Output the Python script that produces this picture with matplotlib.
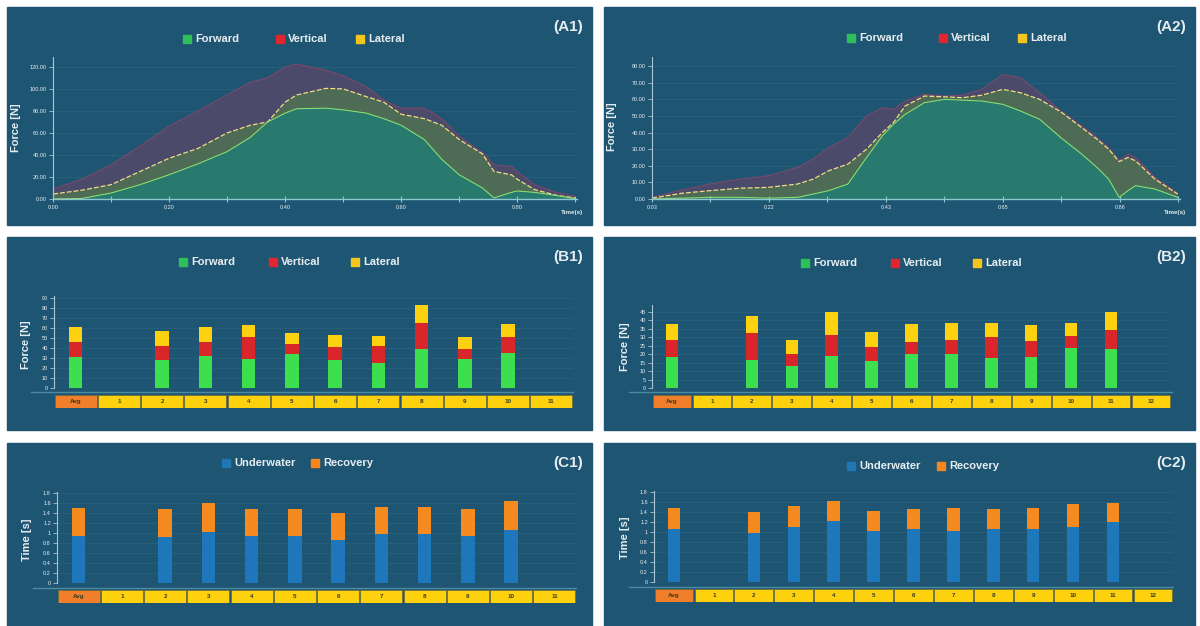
import numpy as np
import matplotlib; matplotlib.use("Agg"); import matplotlib.pyplot as plt
from matplotlib.patches import Rectangle

W, H = 1200, 626
plt.rcParams["font.family"] = ["Liberation Sans", "DejaVu Sans"]

BG = "#1e5572"; AX = "#a9c4d3"; TXT = "#e6edf1"; GRID = "#3a6f8b"

# (A1) force-time curve, components stacked: forward, lateral, vertical [N]
a1_t = [0.00, 0.05, 0.10, 0.15, 0.20, 0.25, 0.30, 0.34, 0.37, 0.40, 0.42, 0.47, 0.50,
        0.54, 0.57, 0.60, 0.64, 0.67, 0.70, 0.74, 0.76, 0.79, 0.80, 0.83, 0.87, 0.90]
a1_forward = [0, 0.5, 5.4, 13, 22, 32, 43, 56, 70, 78, 82, 82.5, 81,
              78, 73, 67, 54, 36, 22, 10, 1, 6, 7.3, 6, 3, 0.3]
a1_lateral = [4.5, 7.5, 7.6, 12, 15, 14, 17, 11, 0, 10, 12.5, 18, 19,
              15, 15, 10, 19, 31, 32, 31, 24, 16, 10.7, 2.5, 0, 0.7]
a1_vertical = [4.5, 10, 18, 23, 29, 34, 34.5, 39, 40, 32, 28, 16.5, 12,
               9, 2, 5.5, 9.5, 6, 3, 1, 6, 7.5, 7, 4.5, 2.5, 1.4]
a1_xlabels = ["0.00", "0.20", "0.40", "0.60", "0.80"]

# (A2)
a2_t = [0.000, 0.052, 0.099, 0.151, 0.199, 0.249, 0.276, 0.302, 0.335, 0.367, 0.394, 0.413, 0.433, 0.466, 0.501,
        0.531, 0.564, 0.600, 0.630, 0.663, 0.699, 0.735, 0.761, 0.781, 0.799, 0.814, 0.827, 0.860, 0.899]
a2_forward = [0, 0.5, 1, 1, 0.5, 1, 3, 5, 9, 25, 38, 45, 51, 58, 60,
              59.5, 59, 57, 53, 48, 37, 27, 19, 12, 1, 5, 8, 6, 1]
a2_lateral = [0.5, 3, 4, 5.5, 6.5, 8, 9, 12, 12, 5, 2, 1, 5, 4, 1.5,
              1.5, 3.5, 9, 11, 12, 15.5, 16, 17, 18, 21.5, 20, 15, 6, 2]
a2_vertical = [0.5, 2, 4, 5.5, 7, 10, 12, 14, 16, 20, 15, 8, 3, 1, 0.5,
               1.5, 3.5, 9, 9, 4, 0.5, 1, 1, 1, 0.5, 2, 2, 1, 0.5]
a2_xlabels = ["0.03", "0.22", "0.43", "0.65", "0.86"]

# (B1)/(B2) mean force per stroke [N]; None = no bar
b1_cats = ["Avg", "1", "2", "3", "4", "5", "6", "7", "8", "9", "10", "11"]
b1_forward = [31, None, 28, 32, 29, 33.7, 28, 25.5, 39, 29.6, 35.4, None]
b1_vertical = [15, None, 14.5, 14.5, 22.4, 10.5, 13, 17, 26, 9.5, 16.3, None]
b1_lateral = [15, None, 14.5, 15.3, 11.5, 11.2, 12, 10.2, 18, 12.6, 12.9, None]

b2_cats = ["Avg", "1", "2", "3", "4", "5", "6", "7", "8", "9", "10", "11", "12"]
b2_forward = [18.2, None, 16.4, 12.8, 18.6, 15.8, 20, 20, 17.9, 18.2, 23.9, 23.3, None]
b2_vertical = [9.9, None, 15.8, 7.1, 12.4, 8.4, 7.1, 8.4, 12.2, 9.5, 6.9, 10.8, None]
b2_lateral = [9.6, None, 10.1, 8.3, 13.8, 9.1, 10.6, 9.9, 8.5, 9.5, 7.8, 10.9, None]

# (C1)/(C2) stroke phase durations [s]
c1_cats = b1_cats
c1_underwater = [0.95, None, 0.92, 1.03, 0.95, 0.95, 0.87, 0.99, 0.99, 0.94, 1.07, None]
c1_recovery = [0.55, None, 0.56, 0.57, 0.53, 0.53, 0.53, 0.54, 0.54, 0.54, 0.57, None]

c2_cats = b2_cats
c2_underwater = [1.07, None, 0.99, 1.11, 1.23, 1.03, 1.07, 1.03, 1.07, 1.07, 1.11, 1.20, None]
c2_recovery = [0.42, None, 0.41, 0.41, 0.40, 0.40, 0.40, 0.45, 0.40, 0.41, 0.46, 0.39, None]

FWD, VER, LAT = "#3ddf4f", "#d8262b", "#fdd10f"
UND, REC = "#1e76bb", "#f58a1f"
LEG = {"Forward": "#2fbf5a", "Vertical": "#e0262e", "Lateral": "#f4c51c",
       "Underwater": "#1f78b4", "Recovery": "#f5851f"}

fig = plt.figure(figsize=(W/100, H/100), dpi=100, facecolor="white")

def fx(x): return x / W
def fy(y): return 1 - y / H
def box(x0, y0, x1, y1): return [fx(x0), fy(y1), (x1-x0)/W, (y1-y0)/H]

def panel(x0, y0, x1, y1, tag):
    fig.add_artist(Rectangle((fx(x0), fy(y1)), (x1-x0)/W, (y1-y0)/H, transform=fig.transFigure,
                             color=BG, zorder=0))
    fig.text(fx(x1-9), fy(y0+20), tag, ha="right", va="center", fontsize=11, fontweight="bold", color=TXT)

def legend(items, y):
    for x, name in items:
        fig.add_artist(Rectangle((fx(x), fy(y+4)), 8/W, 8/H, transform=fig.transFigure, color=LEG[name]))
        fig.text(fx(x+12), fy(y), name, va="center", fontsize=8, fontweight="bold", color=TXT)

def ylabel(x, y, s):
    fig.text(fx(x), fy(y), s, rotation=90, ha="center", va="center", fontsize=8, fontweight="bold", color=TXT)

def style_axes(ax):
    ax.set_facecolor("none")
    for s in ("top", "right"): ax.spines[s].set_visible(False)
    ax.spines["left"].set_color(AX); ax.spines["left"].set_linewidth(0.8)
    ax.tick_params(axis="y", colors=AX, labelcolor=TXT, labelsize=4, length=3, width=0.6, pad=1.5)

def area(rect, t, fwd, lat, ver, ymax, ystep, xend, xlabels):
    ax = fig.add_axes(box(*rect)); style_axes(ax)
    t = np.asarray(t); f = np.asarray(fwd, float)
    mid = f + np.asarray(lat, float); top = mid + np.asarray(ver, float)
    ax.fill_between(t, mid, top, color="#4b4a6b", lw=0)
    ax.fill_between(t, f, mid, color="#4e6b56", lw=0)
    ax.fill_between(t, 0, f, color="#277a6d", lw=0)
    ax.plot(t, top, color="#80476a", lw=0.8)
    ax.plot(t, mid, color="#f0e07c", lw=0.9, ls=(0, (4, 1.5)))
    ax.plot(t, f, color="#86df73", lw=0.8)
    yt = np.arange(0, ymax, ystep)
    ax.set_yticks(yt); ax.set_yticklabels([f"{v:.2f}" for v in yt])
    for v in yt[1:]: ax.axhline(v, color=GRID, lw=0.5, ls=(0, (2, 2)), zorder=0)
    xt = np.arange(0, xend, 0.1)
    ax.set_xticks(xt); ax.set_xticklabels([xlabels[i//2] if i % 2 == 0 and i//2 < len(xlabels) else "" for i in range(len(xt))])
    ax.set_xlim(0, xend); ax.set_ylim(0, ymax)
    ax.spines["bottom"].set_color("#8fc6d2"); ax.spines["bottom"].set_linewidth(1.0)
    ax.tick_params(axis="x", colors="#8fc6d2", labelcolor=TXT, labelsize=4, length=4, direction="inout", width=0.8, pad=2)
    fig.text(fx(rect[2]+6), fy(rect[3]+14), "Time(s)", ha="right", va="center", fontsize=4.5, fontweight="bold", color=TXT)
    return ax

def bars(rect, strip, base, cats, series, ymax, yticks, fmt):
    ax = fig.add_axes(box(*rect)); style_axes(ax)
    ax.spines["bottom"].set_visible(False)
    x = np.arange(len(cats)); bottom = np.zeros(len(cats))
    for vals, col in series:
        v = np.array([np.nan if a is None else a for a in vals], float)
        ok = ~np.isnan(v)
        ax.bar(x[ok], v[ok], 0.31, bottom=bottom[ok], color=col, lw=0)
        bottom[ok] += v[ok]
    ax.set_xlim(-0.5, len(cats)-0.5); ax.set_ylim(0, ymax)
    ax.set_xticks([])
    ax.set_yticks(yticks); ax.set_yticklabels([fmt(v) for v in yticks])
    for v in yticks[1:]: ax.axhline(v, color=GRID, lw=0.5, ls=(0, (2, 2)), zorder=0)
    # category strip under the bars
    sx = fig.add_axes(box(*strip)); sx.set_axis_off()
    sx.bar(x, 1, 0.97, color=["#f07e2b"] + ["#fdd10e"]*(len(cats)-1), edgecolor="#6b6a3a", lw=0.5)
    sx.set_xlim(-0.5, len(cats)-0.5); sx.set_ylim(0, 1)
    for i, c in enumerate(cats):
        sx.text(i, 0.5, c, ha="center", va="center", fontsize=4.5, fontweight="bold", color="#3b3a1c")
    fig.add_artist(plt.Line2D([fx(base[0]), fx(base[1])], [fy(base[2])]*2, transform=fig.transFigure,
                              color="#4c89a3", lw=1))
    return ax

# panels
panel(7, 7, 592, 225, "(A1)"); panel(604, 7, 1195, 225, "(A2)")
panel(7, 237, 592, 430, "(B1)"); panel(604, 237, 1195, 430, "(B2)")
panel(7, 443, 592, 626, "(C1)"); panel(604, 443, 1195, 626, "(C2)")

area((53, 57, 577, 199), a1_t, a1_forward, a1_lateral, a1_vertical, 129, 20, 0.903, a1_xlabels)
area((652, 57, 1180, 199), a2_t, a2_forward, a2_lateral, a2_vertical, 85.5, 10, 0.903, a2_xlabels)
legend([(183, "Forward"), (276, "Vertical"), (356, "Lateral")], 39)
legend([(847, "Forward"), (939, "Vertical"), (1018, "Lateral")], 38)
ylabel(16, 128, "Force [N]"); ylabel(612, 127, "Force [N]")

bars((54, 296, 573, 388), (54, 395, 573, 408), (31, 573, 392), b1_cats,
     [(b1_forward, FWD), (b1_vertical, VER), (b1_lateral, LAT)], 92.5, np.arange(0, 91, 10), lambda v: f"{v:g}")
bars((652, 305, 1171, 388), (652, 395, 1171, 408), (629, 1172, 392), b2_cats,
     [(b2_forward, FWD), (b2_vertical, VER), (b2_lateral, LAT)], 49, np.arange(0, 46, 5), lambda v: f"{v:g}")
legend([(179, "Forward"), (269, "Vertical"), (351, "Lateral")], 262)
legend([(801, "Forward"), (891, "Vertical"), (973, "Lateral")], 263)
ylabel(26, 345, "Force [N]"); ylabel(625, 347, "Force [N]")

bars((57, 492, 576, 583), (57, 590, 576, 603), (33, 576, 588), c1_cats,
     [(c1_underwater, UND), (c1_recovery, REC)], 1.82, np.round(np.arange(0, 1.81, 0.2), 1), lambda v: f"{v:g}")
bars((654, 491, 1173, 582), (654, 589, 1173, 602), (629, 1173, 587), c2_cats,
     [(c2_underwater, UND), (c2_recovery, REC)], 1.83, np.round(np.arange(0, 1.81, 0.2), 1), lambda v: f"{v:g}")
legend([(222, "Underwater"), (311, "Recovery")], 463)
legend([(847, "Underwater"), (937, "Recovery")], 466)
ylabel(27, 540, "Time [s]"); ylabel(625, 538, "Time [s]")

fig.savefig("out.png", dpi=100, facecolor="white")
